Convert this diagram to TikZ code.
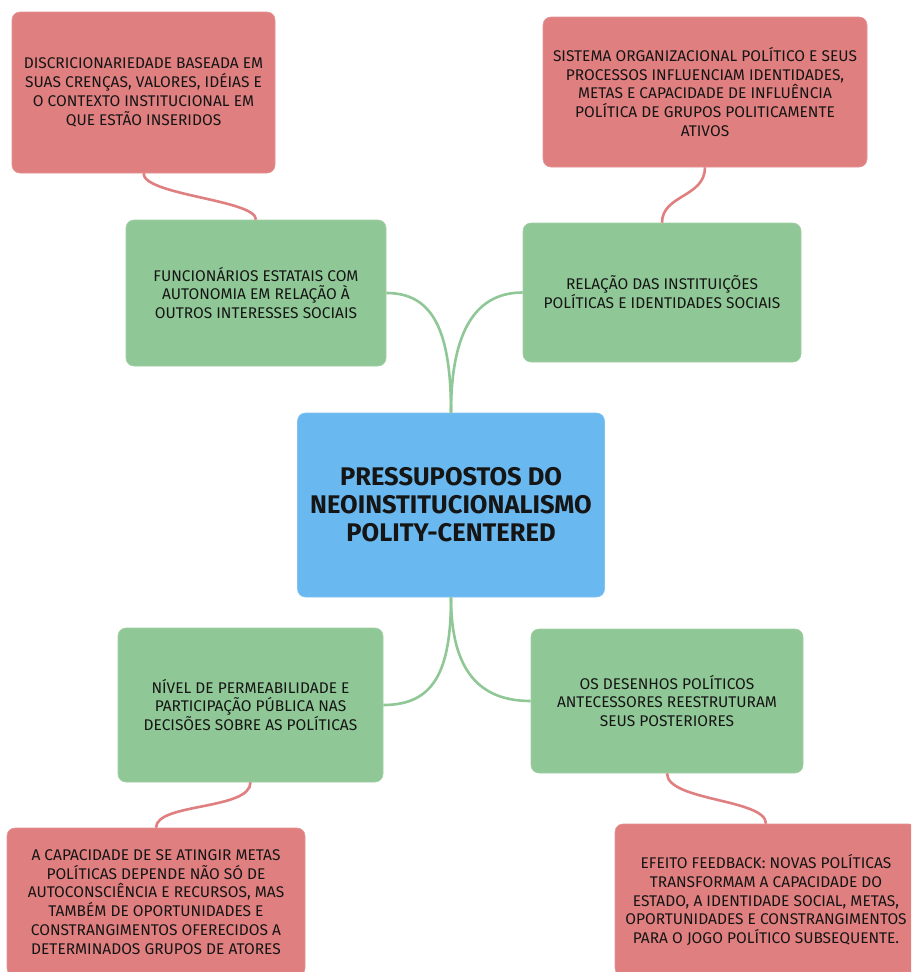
\documentclass[tikz,border=0pt]{standalone}
\usepackage{fontspec}
\setmainfont{Fira Sans}
\definecolor{boxred}{HTML}{E07F80}
\definecolor{boxgreen}{HTML}{90C796}
\definecolor{boxblue}{HTML}{6AB8F0}
\definecolor{txt}{HTML}{151515}
\tikzset{
  card/.style={rounded corners=8pt, inner sep=0pt, align=center, text=txt,
    font=\fontsize{15.5}{18.8}\selectfont},
  redcard/.style={card, fill=boxred, draw=boxred!85!white, line width=0.6pt},
  greencard/.style={card, fill=boxgreen, draw=boxgreen!85!white, line width=0.6pt},
  bluecard/.style={card, fill=boxblue, draw=boxblue!85!white, line width=0.6pt,
    font=\fontsize{25.5}{28}\selectfont\bfseries},
  glink/.style={draw=boxgreen, line width=2.6pt},
  rlink/.style={draw=boxred, line width=2.6pt},
}
\begin{document}
\begin{tikzpicture}[x=1pt,y=-1pt]
\path[use as bounding box] (0,0) rectangle (911,972);
\clip (0,0) rectangle (911,972);
\fill[white] (0,0) rectangle (911,972);

\node[redcard, minimum width=263pt, minimum height=161pt] (rtl) at (143.5,92.5)
  {DISCRICIONARIEDADE BASEADA EM\\SUAS CRENÇAS, VALORES, IDÉIAS E\\O CONTEXTO INSTITUCIONAL EM\\QUE ESTÃO INSERIDOS};
\node[redcard, minimum width=324pt, minimum height=150pt] (rtr) at (705,92)
  {SISTEMA ORGANIZACIONAL POLÍTICO E SEUS\\PROCESSOS INFLUENCIAM IDENTIDADES,\\METAS E CAPACIDADE DE INFLUÊNCIA\\POLÍTICA DE GRUPOS POLITICAMENTE\\ATIVOS};
\node[greencard, minimum width=260pt, minimum height=146pt] (gtl) at (256,293)
  {FUNCIONÁRIOS ESTATAIS COM\\AUTONOMIA EM RELAÇÃO À\\OUTROS INTERESSES SOCIAIS};
\node[greencard, minimum width=278pt, minimum height=139pt] (gtr) at (662,292.5)
  {RELAÇÃO DAS INSTITUIÇÕES\\POLÍTICAS E IDENTIDADES SOCIAIS};
\node[bluecard, minimum width=307pt, minimum height=184pt] (ctr) at (451,505)
  {PRESSUPOSTOS DO\\NEOINSTITUCIONALISMO\\POLITY-CENTERED};
\node[greencard, minimum width=265pt, minimum height=154pt] (gbl) at (250.5,705)
  {NÍVEL DE PERMEABILIDADE E\\PARTICIPAÇÃO PÚBLICA NAS\\DECISÕES SOBRE AS POLÍTICAS};
\node[greencard, minimum width=272pt, minimum height=144pt] (gbr) at (667,701)
  {OS DESENHOS POLÍTICOS\\ANTECESSORES REESTRUTURAM\\SEUS POSTERIORES};
\node[redcard, minimum width=298pt, minimum height=148pt] (rbl) at (156,902)
  {A CAPACIDADE DE SE ATINGIR METAS\\POLÍTICAS DEPENDE NÃO SÓ DE\\AUTOCONSCIÊNCIA E RECURSOS, MAS\\TAMBÉM DE OPORTUNIDADES E\\CONSTRANGIMENTOS OFERECIDOS A\\DETERMINADOS GRUPOS DE ATORES};
\node[redcard, minimum width=302pt, minimum height=152pt] (rbr) at (766,900)
  {EFEITO FEEDBACK: NOVAS POLÍTICAS\\TRANSFORMAM A CAPACIDADE DO\\ESTADO, A IDENTIDADE SOCIAL, METAS,\\OPORTUNIDADES E CONSTRANGIMENTOS\\PARA O JOGO POLÍTICO SUBSEQUENTE.};

\path[glink] (ctr.north) .. controls +(0,-85) and +(45,0) .. (gtl.east);
\path[glink] (ctr.north) .. controls +(0,-85) and +(-45,0) .. (gtr.west);
\path[glink] (ctr.south) .. controls +(0,75) and +(50,0) .. (gbl.east);
\path[glink] (ctr.south) .. controls +(0,75) and +(-50,0) .. (gbr.west);
\path[rlink] (rtl.south) .. controls +(0,22) and +(0,-20) .. (gtl.north);
\path[rlink] (rtr.south) .. controls +(0,30) and +(0,-28) .. (gtr.north);
\path[rlink] (gbl.south) .. controls +(0,28) and +(0,-25) .. (rbl.north);
\path[rlink] (gbr.south) .. controls +(0,28) and +(0,-25) .. (rbr.north);
\end{tikzpicture}
\end{document}
